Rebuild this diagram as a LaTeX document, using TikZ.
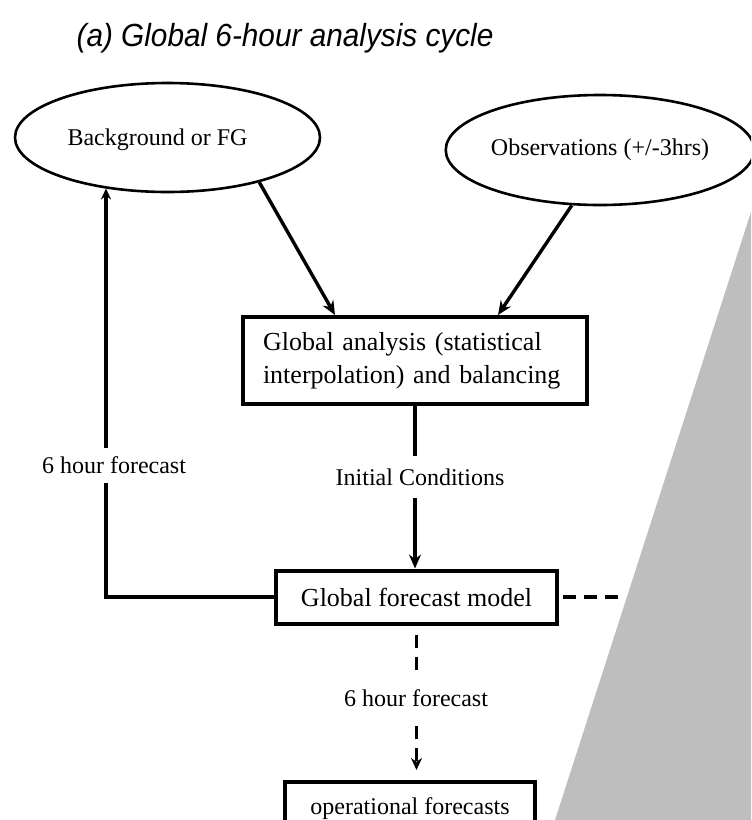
\documentclass[tikz,border=0pt]{standalone}
\usepackage{fontspec}
\setmainfont{Liberation Serif}
\newfontfamily\titlefont{Liberation Sans}
\usetikzlibrary{arrows.meta,shapes.geometric}
\definecolor{greyfill}{RGB}{190,190,190}
\begin{document}
\begin{tikzpicture}[x=0.5pt,y=-0.5pt,
  ell/.style={draw,ellipse,line width=1.3pt,inner sep=0pt,font=\fontsize{12}{14}\selectfont},
  box/.style={draw,rectangle,line width=2pt,inner sep=0pt},
  lbl/.style={inner sep=0pt,font=\fontsize{12}{14}\selectfont},
  conn/.style={line width=1.7pt},
  arr/.style={conn,-{Stealth[length=7pt,width=6pt]}},
  arrsmall/.style={conn,-{Stealth[length=5.5pt,width=5pt]}},
  dsh/.style={conn,dash pattern=on 6.5pt off 4.5pt}]
\clip (0,0) rectangle (751,820);
\useasboundingbox (0,0) rectangle (751,820);
\fill[greyfill] (751,212) -- (555,820) -- (751,820) -- cycle;

\node[font=\titlefont\itshape\fontsize{16}{18}\selectfont] (title) at (285,38)
  {\scalebox{0.93}[1]{(a) Global 6-hour analysis cycle}};

\node[ell, minimum width=152.5pt, minimum height=54.5pt, text depth=0pt] (bg) at (167.5,137.5) {\hspace*{-10pt}Background or FG};
\node[ell, minimum width=146pt, minimum height=55pt] (obs) at (600,150) {Observations (+/-3hrs)};

\node[box, text width=152pt, align=left, inner xsep=10pt, minimum height=43.5pt,
  font=\fontsize{13}{16.5}\selectfont] (ana) at (415,360.5)
  {Global analysis (statistical\\interpolation) and balancing};
\node[box, minimum width=140.5pt, minimum height=26.5pt, font=\fontsize{13}{15}\selectfont] (fm) at (416.5,597) {Global forecast model};
\node[box, minimum width=125pt, minimum height=26.5pt, font=\fontsize{12}{14}\selectfont] (ops) at (410,808.5) {operational forecasts};

\node[lbl, minimum height=21pt] (ic) at (420,477) {Initial Conditions};
\node[lbl, minimum height=17.5pt] (fb) at (114,465.5) {6 hour forecast};
\node[lbl, minimum height=28pt] (f6) at (416,698) {6 hour forecast};

\draw[arr] (bg.-26) -- ([xshift=-40pt]ana.north);
\draw[arr] (obs.243) -- ([xshift=41.5pt]ana.north);
\draw[conn] (ana.south) -- (ana.south |- ic.north);
\draw[arr] (ana.south |- ic.south) -- (ana.south |- fm.north);
\coordinate (c1) at (106,597);
\draw[conn] (fm.west) -- (c1) -- (c1 |- fb.south);
\draw[arrsmall] (c1 |- fb.north) -- (c1 |- bg.219);
\draw[dsh, dash phase=6.5pt] (fm.south) -- (fm.south |- f6.north);
\draw[dsh, -{Stealth[length=6pt,width=5.5pt]}, shorten >=5pt] (fm.south |- f6.south) -- (fm.south |- ops.north);
\coordinate (dend) at (622,597);
\draw[conn, dash pattern=on 6.5pt off 4pt, dash phase=8.5pt] (fm.east) -- (dend);
\end{tikzpicture}
\end{document}
